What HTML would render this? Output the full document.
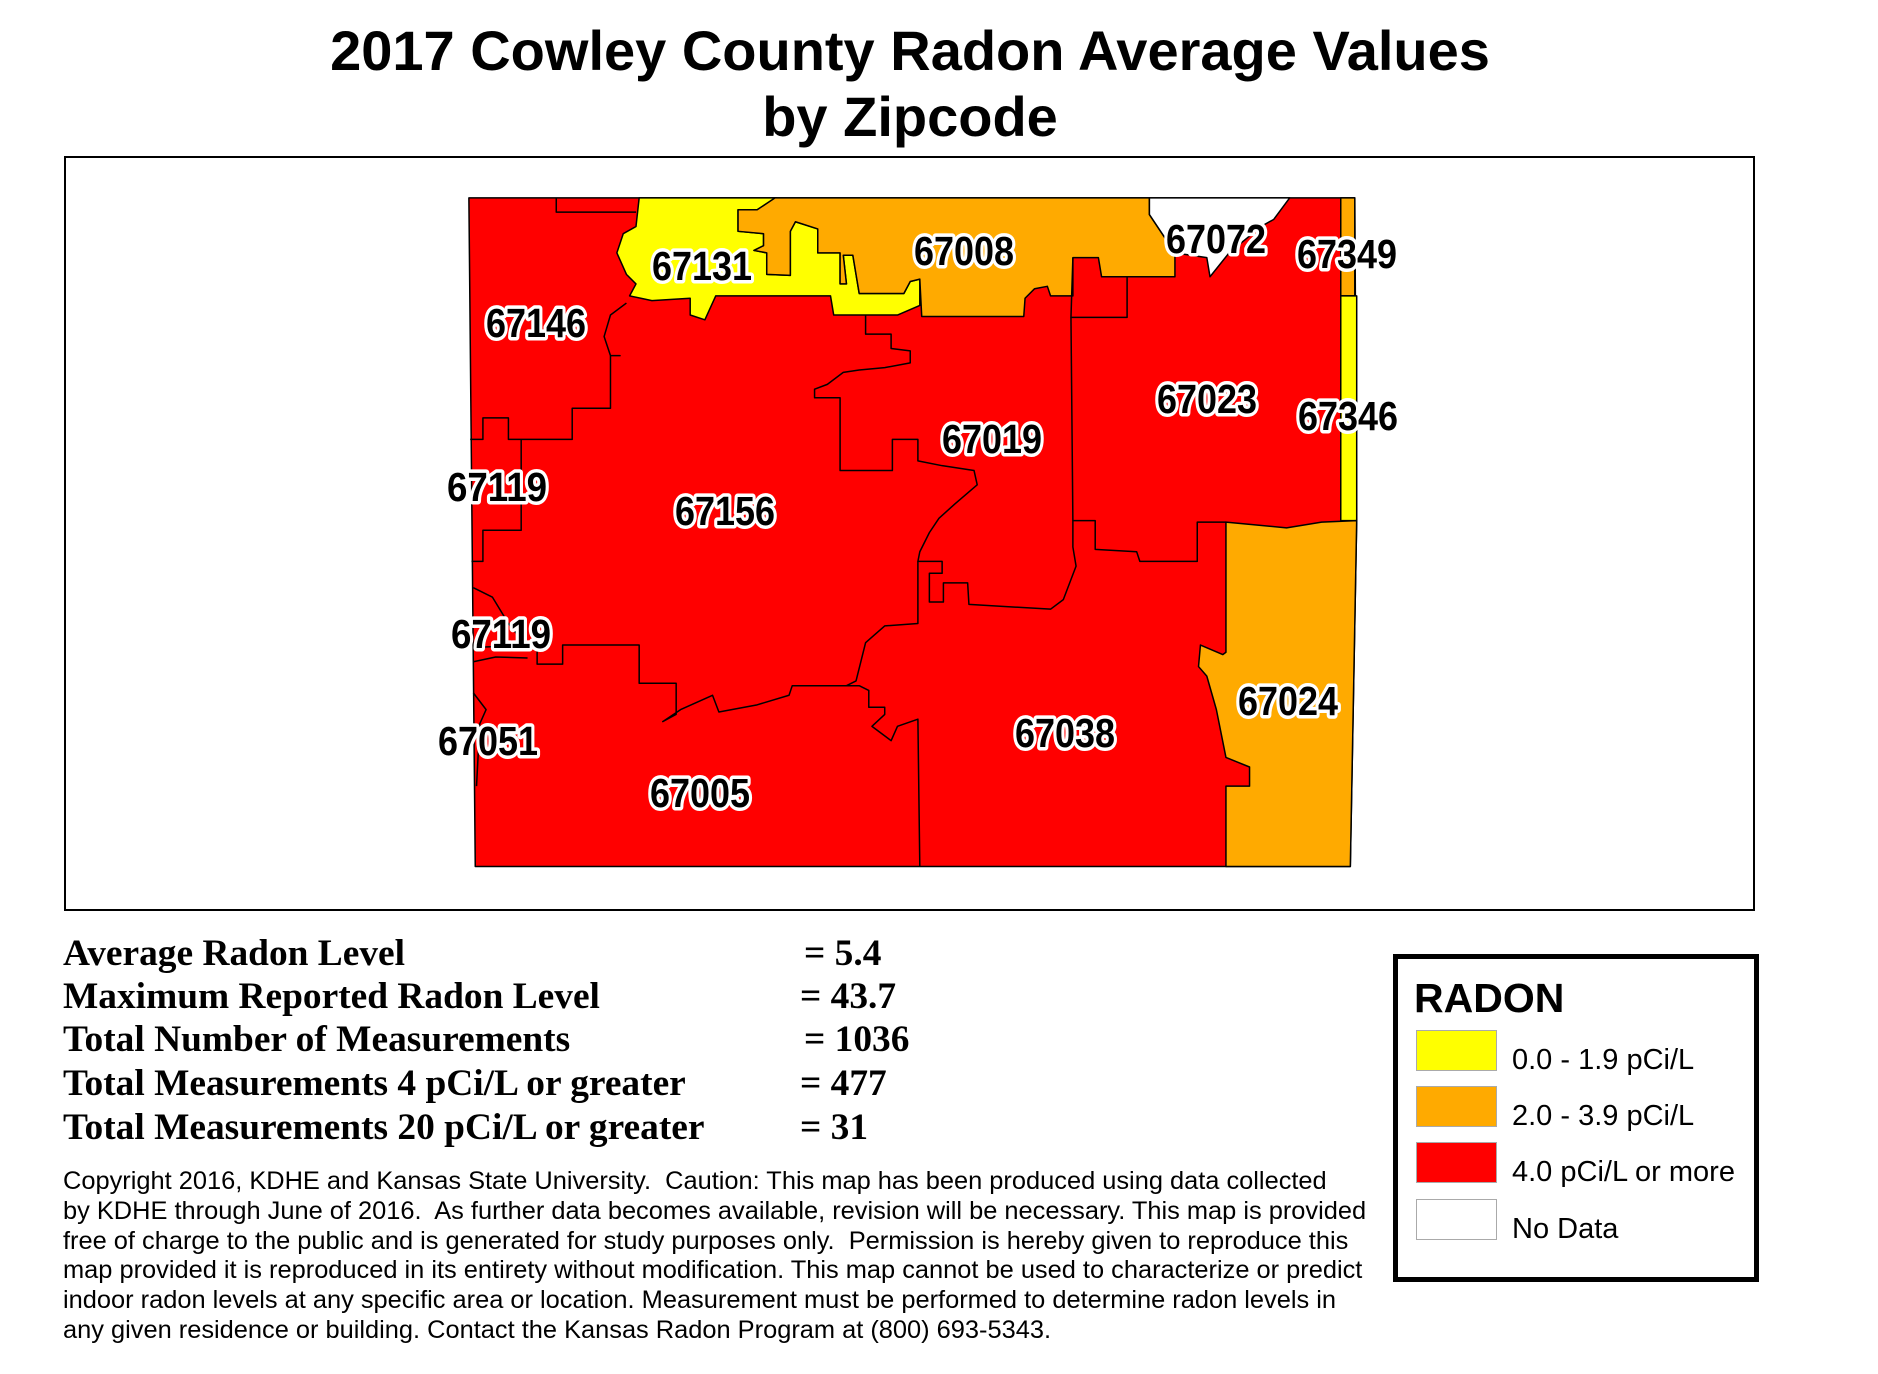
<!DOCTYPE html>
<html><head><meta charset="utf-8"><style>
body{margin:0;background:#fff;width:1878px;height:1374px;position:relative;overflow:hidden;font-family:"Liberation Sans",sans-serif}
.t{position:absolute;left:0;width:1820px;text-align:center;font-weight:bold;font-size:56px;line-height:1}
.s{position:absolute;left:63px;font-family:"Liberation Serif",serif;font-weight:bold;font-size:37.4px;line-height:1}
.v{position:absolute;font-family:"Liberation Serif",serif;font-weight:bold;font-size:37.4px;line-height:1}
.c{position:absolute;left:63px;top:1167px;font-size:25.4px;line-height:29.8px;width:1420px;white-space:nowrap}
.lg{position:absolute;left:1393px;top:954px;width:366px;height:328px;border:5px solid #000;box-sizing:border-box}
.sw{position:absolute;left:1416px;width:81px;height:41px;border:1px solid #aaa;box-sizing:border-box}
.ll{position:absolute;left:1512px;font-size:29px;line-height:1}
</style></head><body>
<div class="t" style="top:23px">2017 Cowley County Radon Average Values</div>
<div class="t" style="top:89px">by Zipcode</div>
<div style="position:absolute;left:64px;top:156px;width:1691px;height:755px;border:2px solid #000;box-sizing:border-box"></div>
<svg width="1878" height="1374" style="position:absolute;left:0;top:0">
<g transform="translate(400,150) scale(0.6378,0.4783)" stroke="#000" stroke-width="1.5" stroke-linejoin="round">
<polygon vector-effect="non-scaling-stroke" fill="#ff0000" points="108,100 1497,100 1500,775 1490,1498 118,1498"/>
<polygon vector-effect="non-scaling-stroke" fill="#ffff00" points="375,100 590,100 560,125 530,125 530,170 570,175 570,200 555,210 575,215 575,260 612,262 612,170 620,150 655,165 655,215 690,215 690,280 700,280 695,220 710,220 720,300 790,300 800,275 815,270 815,325 780,345 680,345 675,305 495,305 478,355 455,345 455,310 395,315 360,305 370,280 355,260 340,215 350,175 370,160"/>
<polygon vector-effect="non-scaling-stroke" fill="#ffaa00" points="588,100 1175,100 1175,135 1215,215 1215,265 1140,265 1100,265 1095,225 1055,225 1055,305 1020,305 1015,285 995,290 980,310 978,348 818,348 815,270 800,275 790,300 720,300 710,220 695,220 700,280 690,280 690,215 655,215 655,165 620,150 612,170 612,262 575,260 575,215 555,210 570,200 570,175 530,170 530,125 560,125"/>
<polygon vector-effect="non-scaling-stroke" fill="#ffffff" points="1175,100 1395,100 1370,145 1350,160 1300,215 1270,265 1265,225 1215,215 1175,135"/>
<polygon vector-effect="non-scaling-stroke" fill="#ffaa00" points="1475,100 1497,100 1497,305 1475,305"/>
<polygon vector-effect="non-scaling-stroke" fill="#ffff00" points="1475,305 1500,305 1500,775 1475,775"/>
<polygon vector-effect="non-scaling-stroke" fill="#ffaa00" points="1295,778 1390,790 1445,778 1500,775 1490,1498 1295,1498 1295,1330 1332,1330 1332,1290 1295,1270 1280,1170 1265,1100 1252,1080 1255,1035 1290,1055 1295,1050"/>
<g fill="none">
<polyline vector-effect="non-scaling-stroke" points="245,100 245,130 370,130"/>
<polyline vector-effect="non-scaling-stroke" points="355,320 330,345 320,390 330,430 345,430 330,430 330,540 270,540 270,605 170,605 170,560 130,560 130,605 110,605"/>
<polyline vector-effect="non-scaling-stroke" points="190,605 190,795 130,795 130,860 112,860"/>
<polyline vector-effect="non-scaling-stroke" points="730,345 730,385 770,385 770,415 800,420 800,445 760,455 720,460 695,465 670,490 650,500 650,518 690,518 690,670 772,670 772,605 812,605 812,650 850,660 900,670 905,700 870,740 845,770 830,800 815,840 812,860 850,860 850,885 830,885 830,945 852,945 852,905 890,905 892,950 1020,960 1040,940 1060,870 1055,830 1055,775 1090,775 1090,835 1155,840 1160,860 1250,860 1250,778 1295,778"/>
<polyline vector-effect="non-scaling-stroke" points="1055,225 1052,350 1140,350 1140,265"/>
<polyline vector-effect="non-scaling-stroke" points="1052,350 1055,775"/>
<polyline vector-effect="non-scaling-stroke" points="812,860 812,990 760,995 730,1030 715,1110 700,1120 615,1120 610,1140 560,1160 500,1175 490,1140 440,1170 412,1195 433,1180 433,1115 375,1115 375,1035 255,1035 255,1075 215,1075 215,1035 115,1040"/>
<polyline vector-effect="non-scaling-stroke" points="615,1120 720,1120 735,1130 735,1165 760,1165 760,1180 740,1205 770,1235 780,1205 812,1190 815,1498"/>
<polyline vector-effect="non-scaling-stroke" points="115,915 145,935 170,990 200,1040"/>
<polyline vector-effect="non-scaling-stroke" points="115,1070 150,1060 200,1062"/>
<polyline vector-effect="non-scaling-stroke" points="115,1135 135,1170 125,1200 120,1330"/>
</g>
</g>
<g font-family="Liberation Sans,sans-serif" font-weight="bold" font-size="41" text-anchor="middle" fill="#000" stroke="#fff" stroke-width="7" paint-order="stroke" stroke-linejoin="round">
<text x="702" y="280" textLength="100" lengthAdjust="spacingAndGlyphs">67131</text>
<text x="964" y="265" textLength="100" lengthAdjust="spacingAndGlyphs">67008</text>
<text x="1216" y="253" textLength="100" lengthAdjust="spacingAndGlyphs">67072</text>
<text x="1347" y="268" textLength="100" lengthAdjust="spacingAndGlyphs">67349</text>
<text x="536" y="337" textLength="100" lengthAdjust="spacingAndGlyphs">67146</text>
<text x="1207" y="413" textLength="100" lengthAdjust="spacingAndGlyphs">67023</text>
<text x="1348" y="430" textLength="100" lengthAdjust="spacingAndGlyphs">67346</text>
<text x="992" y="453" textLength="100" lengthAdjust="spacingAndGlyphs">67019</text>
<text x="497" y="501" textLength="100" lengthAdjust="spacingAndGlyphs">67119</text>
<text x="725" y="525" textLength="100" lengthAdjust="spacingAndGlyphs">67156</text>
<text x="501" y="648" textLength="100" lengthAdjust="spacingAndGlyphs">67119</text>
<text x="1288" y="715" textLength="100" lengthAdjust="spacingAndGlyphs">67024</text>
<text x="1065" y="747" textLength="100" lengthAdjust="spacingAndGlyphs">67038</text>
<text x="488" y="755" textLength="100" lengthAdjust="spacingAndGlyphs">67051</text>
<text x="700" y="807" textLength="100" lengthAdjust="spacingAndGlyphs">67005</text>
</g>
</svg>
<div class="s" style="top:935px">Average Radon Level</div><div class="v" style="left:804px;top:935px">= 5.4</div>
<div class="s" style="top:978px">Maximum Reported Radon Level</div><div class="v" style="left:800px;top:978px">= 43.7</div>
<div class="s" style="top:1021px">Total Number of Measurements</div><div class="v" style="left:804px;top:1021px">= 1036</div>
<div class="s" style="top:1065px">Total Measurements 4 pCi/L or greater</div><div class="v" style="left:800px;top:1065px">= 477</div>
<div class="s" style="top:1109px">Total Measurements 20 pCi/L or greater</div><div class="v" style="left:800px;top:1109px">= 31</div>
<div class="c">Copyright 2016, KDHE and Kansas State University.&nbsp; Caution: This map has been produced using data collected<br>by KDHE through June of 2016.&nbsp; As further data becomes available, revision will be necessary. This map is provided<br>free of charge to the public and is generated for study purposes only.&nbsp; Permission is hereby given to reproduce this<br>map provided it is reproduced in its entirety without modification. This map cannot be used to characterize or predict<br>indoor radon levels at any specific area or location. Measurement must be performed to determine radon levels in<br>any given residence or building. Contact the Kansas Radon Program at (800) 693-5343.</div>
<div class="lg"></div>
<div style="position:absolute;left:1414px;top:978px;font-weight:bold;font-size:41px;line-height:1">RADON</div>
<div class="sw" style="top:1030px;background:#ffff00"></div><div class="ll" style="top:1046px">0.0 - 1.9 pCi/L</div>
<div class="sw" style="top:1086px;background:#ffaa00"></div><div class="ll" style="top:1102px">2.0 - 3.9 pCi/L</div>
<div class="sw" style="top:1142px;background:#ff0000"></div><div class="ll" style="top:1158px">4.0 pCi/L or more</div>
<div class="sw" style="top:1199px;background:#fff"></div><div class="ll" style="top:1215px">No Data</div>
</body></html>
